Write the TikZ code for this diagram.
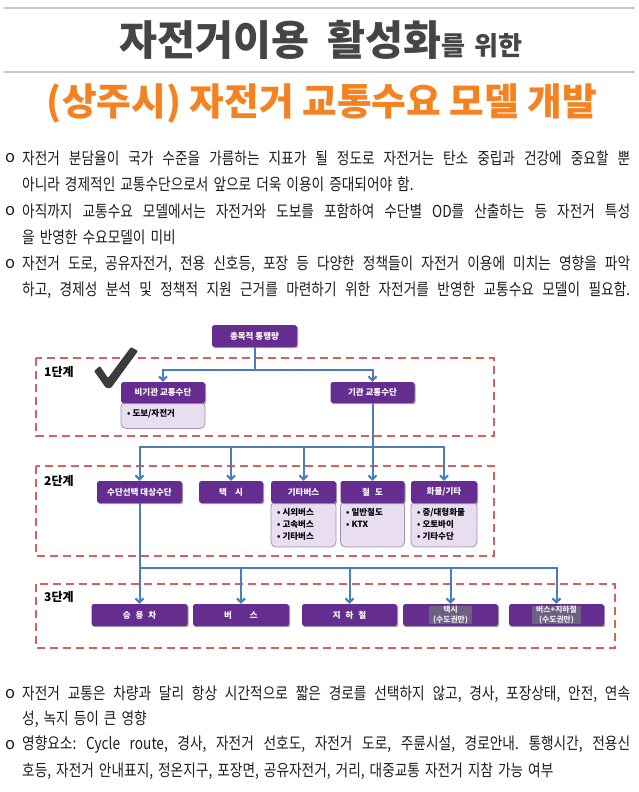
\documentclass[tikz,border=0pt]{standalone}
\usepackage{fontspec}
\setmainfont{Noto Sans CJK KR}
\usepackage{graphicx}
\usetikzlibrary{arrows.meta,shadows}

\definecolor{ttlgray}{HTML}{454545}
\definecolor{ttlorange}{RGB}{245,130,32}
\definecolor{rulegray}{HTML}{C8C8C8}
\definecolor{boxpurple}{HTML}{662D91}
\definecolor{subfill}{HTML}{E8DDF1}
\definecolor{subdraw}{HTML}{A48FBA}
\definecolor{dashred}{HTML}{D9605C}
\definecolor{connblue}{HTML}{4A7EBB}
\definecolor{hlgray}{HTML}{6E6082}
\definecolor{checkgray}{HTML}{3C3C3C}
\definecolor{bodyink}{HTML}{1E1E1E}

\newcommand\bodyfnt{\fontsize{16.5}{19}\selectfont\frenchspacing\spaceskip=6pt plus 14pt minus 1pt\xspaceskip=\spaceskip}
\newcommand\jline[1]{\scalebox{0.83}[1]{\makebox[732.5pt][s]{#1}}}
\newcommand\nline[1]{\scalebox{0.83}[1]{#1}}

\begin{document}
\begin{tikzpicture}[x=1pt,y=-1pt,
  purplebox/.style={fill=boxpurple, rounded corners=2.5pt, text=white,
    font=\bfseries\fontsize{8.5}{10}\selectfont, inner sep=0pt, minimum height=22pt,
    drop shadow={shadow xshift=1.2pt, shadow yshift=-1.2pt, fill=black!60, opacity=0.6}},
  subbox/.style={draw=subdraw, line width=0.8pt, fill=subfill, rounded corners=5pt, inner sep=0pt},
  subtext/.style={font=\bfseries\fontsize{8.5}{12}\selectfont, align=left, anchor=north west, inner sep=0pt},
  stagebox/.style={draw=dashred, line width=2.2pt, dash pattern=on 8pt off 5pt},
  stagelbl/.style={font=\bfseries\fontsize{12}{13}\selectfont, anchor=west, inner sep=0pt},
  conn/.style={draw=connblue, line width=2pt},
  arr/.style={conn, -{Straight Barb[length=4pt,width=8pt]}},
  bodyln/.style={anchor=west, inner sep=0pt, font=\bodyfnt, text=bodyink},
  hltext/.style={fill=hlgray, text=white!92!black, font=\bfseries\fontsize{7.8}{9.2}\selectfont,
    align=center, inner xsep=4pt, inner ysep=0.5pt}
]
\useasboundingbox (0,0) rectangle (639,792);
\fill[white] (0,0) rectangle (639,792);

% ---- titles
\draw[rulegray,line width=1.3pt] (4,8) -- (635,8);
\draw[rulegray,line width=1.3pt] (4,72) -- (635,72);
\node[inner sep=0pt, text=ttlgray] (title1) at (321,40)
  {\resizebox{402pt}{!}{\bfseries\fontsize{38}{38}\selectfont 자전거이용\hspace{16pt}활성화{\fontsize{24}{24}\selectfont 를\hspace{8pt}위한}}};
\node[inner sep=0pt, text=ttlorange] (title2) at (322,103)
  {\resizebox{550pt}{!}{\bfseries\fontsize{40}{40}\selectfont (상주시) 자전거 교통수요 모델 개발}};

% ---- upper bullets
\node[bodyln] (o1) at (5,158) {o};
\node[bodyln] (t1a) at (22,158) {\jline{자전거 분담율이 국가 수준을 가름하는 지표가 될 정도로 자전거는 탄소 중립과 건강에 중요할 뿐}};
\node[bodyln] (t1b) at (22,184) {\nline{아니라 경제적인 교통수단으로서 앞으로 더욱 이용이 증대되어야 함.}};
\node[bodyln] (o2) at (5,211) {o};
\node[bodyln] (t2a) at (22,211) {\jline{아직까지 교통수요 모델에서는 자전거와 도보를 포함하여 수단별 OD를 산출하는 등 자전거 특성}};
\node[bodyln] (t2b) at (22,237) {\nline{을 반영한 수요모델이 미비}};
\node[bodyln] (o3) at (5,264) {o};
\node[bodyln] (t3a) at (22,264) {\jline{자전거 도로, 공유자전거, 전용 신호등, 포장 등 다양한 정책들이 자전거 이용에 미치는 영향을 파악}};
\node[bodyln] (t3b) at (22,290) {\jline{하고, 경제성 분석 및 정책적 지원 근거를 마련하기 위한 자전거를 반영한 교통수요 모델이 필요함.}};

% ---- lower bullets
\node[bodyln] (o4) at (5,694) {o};
\node[bodyln] (t4a) at (22,694) {\jline{자전거 교통은 차량과 달리 항상 시간적으로 짧은 경로를 선택하지 않고, 경사, 포장상태, 안전, 연속}};
\node[bodyln] (t4b) at (22,719) {\nline{성, 녹지 등이 큰 영향}};
\node[bodyln] (o5) at (5,745) {o};
\node[bodyln] (t5a) at (22,745) {\jline{영향요소: Cycle route, 경사, 자전거 선호도, 자전거 도로, 주륜시설, 경로안내. 통행시간, 전용신}};
\node[bodyln] (t5b) at (22,771) {\nline{호등, 자전거 안내표지, 정온지구, 포장면, 공유자전거, 거리, 대중교통 자전거 지참 가능 여부}};

% ---- stage frames
\draw[stagebox] (36,358) rectangle (494,436);
\draw[stagebox] (36,466) rectangle (494,556);
\draw[stagebox] (36,584) rectangle (615,648);
\node[stagelbl] (s1) at (44,372) {1단계};
\node[stagelbl] (s2) at (44,481) {2단계};
\node[stagelbl] (s3) at (44,597) {3단계};

% ---- check mark
\fill[checkgray, rounded corners=1pt] (94,371) -- (100,366) -- (108,378) -- (131,347) -- (138,351) -- (111,388) -- (106,388) -- cycle;

% ---- sub boxes (drawn under headers)
\node[subbox, minimum width=84pt, minimum height=27pt] (nbs) at (163,415) {};
\node[subtext] (nbst) at (127,409) {• 도보/자전거};
\node[subbox, minimum width=65pt, minimum height=46pt] (obuss) at (303.5,524) {};
\node[subtext] (obusst) at (277,508) {• 시외버스\\• 고속버스\\• 기타버스};
\node[subbox, minimum width=64pt, minimum height=46pt] (rails) at (372.5,524) {};
\node[subtext] (railst) at (346,508) {• 일반철도\\• KTX};
\node[subbox, minimum width=66pt, minimum height=46pt] (frts) at (444,524) {};
\node[subtext] (frtst) at (417,508) {• 중/대형화물\\• 오토바이\\• 기타수단};

% ---- purple boxes
\node[purplebox, minimum width=85pt] (tot) at (254.5,336) {총목적 통행량};
\node[purplebox, minimum width=84pt, minimum height=21pt] (nb) at (163,392.5) {비기관 교통수단};
\node[purplebox, minimum width=84pt, minimum height=21pt] (inst) at (372.5,392.5) {기관 교통수단};

\node[purplebox, minimum width=85pt] (modesel) at (139.5,492) {수단선택 대상수단};
\node[purplebox, minimum width=64pt] (taxi) at (231,492) {택\hspace{8pt}시};
\node[purplebox, minimum width=65pt] (obus) at (303.5,492) {기타버스};
\node[purplebox, minimum width=64pt] (rail) at (372.5,492) {철\hspace{5pt}도};
\node[purplebox, minimum width=66pt] (frt) at (444,492) {화물/기타};

\node[purplebox, minimum width=96pt] (car) at (139.5,615) {승\hspace{5pt}용\hspace{5pt}차};
\node[purplebox, minimum width=96pt] (bus) at (241,615) {버\hspace{18pt}스};
\node[purplebox, minimum width=95pt] (subw) at (349.5,615) {지\hspace{5pt}하\hspace{5pt}철};
\node[purplebox, minimum width=95pt] (taxi2) at (450.5,615) {};
\node[hltext] (taxi2t) at (taxi2.center) {택시\\(수도권만)};
\node[purplebox, minimum width=95pt] (bs) at (556.5,615) {};
\node[hltext] (bst) at (bs.center) {버스+지하철\\(수도권만)};

% ---- connectors
\coordinate (j1) at (254.5,370);
\draw[conn] (tot.south) -- (j1);
\draw[arr] (j1) -| (nb.north);
\draw[arr] (j1) -| (inst.north);

\coordinate (j2) at (372.5,447);
\draw[conn] (inst.south) -- (j2);
\draw[arr] (j2) -| (modesel.north);
\draw[arr] (j2) -| (taxi.north);
\draw[arr] (j2) -| (obus.north);
\draw[arr] (j2) -- (rail.north);
\draw[arr] (j2) -| (frt.north);

\coordinate (j3) at (139.5,568);
\draw[conn] (modesel.south) -- (j3);
\draw[arr] (j3) -- (car.north);
\draw[arr] (j3) -| (bus.north);
\draw[arr] (j3) -| (subw.north);
\draw[arr] (j3) -| (taxi2.north);
\draw[arr] (j3) -| (bs.north);
\end{tikzpicture}
\end{document}
